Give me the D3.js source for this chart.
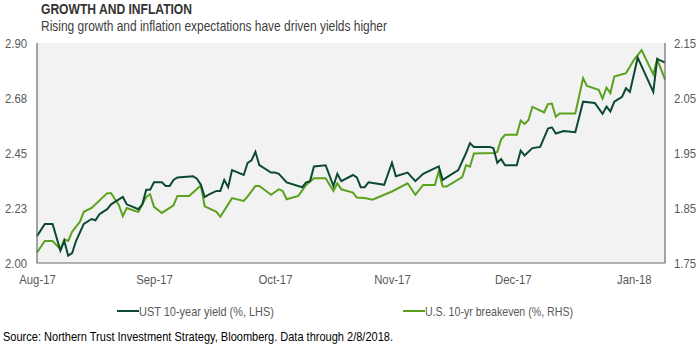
<!DOCTYPE html>
<html>
<head>
<meta charset="utf-8">
<script src="https://cdn.jsdelivr.net/npm/d3@7"></script>
<style>
  body { margin: 0; background: #ffffff; }
  text { font-family: "Liberation Sans Narrow", "Arial Narrow", "Liberation Sans", Arial, sans-serif; }
</style>
</head>
<body>
<svg id="chart"></svg>
<script>

// UST 10-year yield (%, LHS)
var ustDates = ["2017-08-31","2017-09-02","2017-09-04","2017-09-06","2017-09-07","2017-09-08","2017-09-09","2017-09-10",
    "2017-09-12","2017-09-14","2017-09-15","2017-09-16","2017-09-18","2017-09-19","2017-09-21","2017-09-22","2017-09-23",
    "2017-09-26","2017-09-27","2017-09-28","2017-09-29","2017-09-30","2017-10-02","2017-10-03","2017-10-04","2017-10-05",
    "2017-10-06","2017-10-10","2017-10-11","2017-10-12","2017-10-13","2017-10-14","2017-10-16","2017-10-17","2017-10-18",
    "2017-10-19","2017-10-20","2017-10-23","2017-10-24","2017-10-25","2017-10-26","2017-10-27","2017-10-30","2017-10-31",
    "2017-11-01","2017-11-03","2017-11-07","2017-11-08","2017-11-09","2017-11-10","2017-11-13","2017-11-15","2017-11-16",
    "2017-11-17","2017-11-20","2017-11-21","2017-11-22","2017-11-23","2017-11-24","2017-11-28","2017-11-30","2017-12-01",
    "2017-12-04","2017-12-06","2017-12-08","2017-12-10","2017-12-12","2017-12-13","2017-12-17","2017-12-19","2017-12-20",
    "2017-12-21","2017-12-25","2017-12-26","2017-12-27","2017-12-28","2017-12-29","2018-01-01","2018-01-02","2018-01-03",
    "2018-01-05","2018-01-07","2018-01-09","2018-01-10","2018-01-11","2018-01-13","2018-01-16","2018-01-18","2018-01-21",
    "2018-01-23","2018-01-24","2018-01-25","2018-01-26","2018-01-28","2018-01-29","2018-01-30","2018-02-01","2018-02-05",
    "2018-02-06","2018-02-08"]
var ustYield = [2.11,2.16,2.16,2.05,2.09,2.03,2.04,2.09,
    2.16,2.18,2.175,2.20,2.22,2.24,2.26,2.27,2.24,
    2.22,2.24,2.30,2.30,2.33,2.33,2.315,2.315,2.34,
    2.35,2.355,2.345,2.32,2.27,2.28,2.295,2.295,2.34,
    2.31,2.38,2.36,2.41,2.42,2.455,2.40,2.37,2.37,
    2.365,2.33,2.31,2.33,2.335,2.395,2.40,2.315,2.365,
    2.335,2.36,2.35,2.31,2.31,2.33,2.32,2.41,2.355,
    2.37,2.335,2.365,2.38,2.395,2.34,2.38,2.45,2.49,
    2.475,2.475,2.47,2.41,2.425,2.40,2.40,2.46,2.44,
    2.47,2.475,2.55,2.555,2.53,2.54,2.535,2.66,2.655,
    2.61,2.64,2.62,2.66,2.68,2.715,2.70,2.84,2.70,
    2.835,2.82]

// U.S. 10-yr breakeven (%, RHS)
var beDates = ["2017-08-31","2017-09-02","2017-09-04","2017-09-06","2017-09-07","2017-09-08","2017-09-09","2017-09-11",
    "2017-09-12","2017-09-14","2017-09-18","2017-09-19","2017-09-21","2017-09-22","2017-09-23","2017-09-25","2017-09-26",
    "2017-09-28","2017-09-29","2017-09-30","2017-10-02","2017-10-05","2017-10-06","2017-10-09","2017-10-12","2017-10-13",
    "2017-10-16","2017-10-17","2017-10-20","2017-10-23","2017-10-24","2017-10-26","2017-10-27","2017-10-30","2017-11-01",
    "2017-11-02","2017-11-03","2017-11-06","2017-11-08","2017-11-10","2017-11-13","2017-11-15","2017-11-16","2017-11-17",
    "2017-11-20","2017-11-21","2017-11-23","2017-11-25","2017-11-30","2017-12-04","2017-12-06","2017-12-08","2017-12-11",
    "2017-12-12","2017-12-13","2017-12-14","2017-12-18","2017-12-19","2017-12-20","2017-12-21","2017-12-26","2017-12-27",
    "2017-12-28","2017-12-29","2018-01-01","2018-01-02","2018-01-03","2018-01-04","2018-01-05","2018-01-08","2018-01-09",
    "2018-01-10","2018-01-11","2018-01-12","2018-01-16","2018-01-18","2018-01-19","2018-01-22","2018-01-23","2018-01-24",
    "2018-01-25","2018-01-26","2018-01-29","2018-01-31","2018-02-02","2018-02-05","2018-02-06","2018-02-08"]
var beValue = [1.769,1.79,1.79,1.775,1.793,1.79,1.807,1.825,
    1.843,1.85,1.877,1.877,1.855,1.835,1.85,1.845,1.843,
    1.87,1.875,1.852,1.841,1.855,1.872,1.872,1.891,1.853,
    1.843,1.834,1.868,1.863,1.871,1.89,1.89,1.874,1.884,
    1.881,1.866,1.872,1.892,1.904,1.904,1.881,1.895,1.884,
    1.878,1.869,1.868,1.865,1.88,1.895,1.874,1.892,1.892,
    1.917,1.889,1.889,1.906,1.928,1.925,1.949,1.95,1.952,
    1.975,1.983,1.983,2.009,2.003,2.01,2.034,2.024,2.039,
    2.04,2.016,2.022,2.022,2.086,2.072,2.065,2.049,2.069,
    2.059,2.089,2.095,2.119,2.137,2.093,2.12,2.084]

var xTickDates = ["2017-08-31","2017-09-30","2017-10-31","2017-11-30","2017-12-31","2018-01-31"]
var xTickLabels = ["Aug-17","Sep-17","Oct-17","Nov-17","Dec-17","Jan-18"]
var leftTicks = [2.00, 2.225, 2.45, 2.675, 2.90]
var leftTickLabels = ["2.00","2.23","2.45","2.68","2.90"]
var rightTicks = [1.75, 1.85, 1.95, 2.05, 2.15]
var rightTickLabels = ["1.75","1.85","1.95","2.05","2.15"]
var seriesNames = ["UST 10-year yield (%, LHS)", "U.S. 10-yr breakeven (%, RHS)"]

var dimensions = {
    width: 700,
    height: 350,
    margin: {
        top: 43,
        bottom: 87,
        right: 35,
        left: 37
    }
}
dimensions.boundedWidth = dimensions.width - dimensions.margin.left - dimensions.margin.right
dimensions.boundedHeight = dimensions.height - dimensions.margin.top - dimensions.margin.bottom

var parseDate = d3.timeParse("%Y-%m-%d")
var ustData = ustDates.map(function(d, i) { return { date: parseDate(d), value: ustYield[i] } })
var beData = beDates.map(function(d, i) { return { date: parseDate(d), value: beValue[i] } })

// no narrow font here, so squeeze text to a narrow width
function narrow(sel, width) {
    sel.each(function() {
        var w = width || this.getComputedTextLength() * 0.84
        d3.select(this)
            .attr("textLength", w)
            .attr("lengthAdjust", "spacingAndGlyphs")
    })
}

var svg = d3.select("#chart")
    .attr("width", dimensions.width)
    .attr("height", dimensions.height)

var bounds = svg.append("g")
    .attr("transform", "translate(" + dimensions.margin.left + "," + dimensions.margin.top + ")")

var xScale = d3.scaleTime()
    .domain([parseDate("2017-08-31"), parseDate("2018-02-08")])
    .range([0, dimensions.boundedWidth])

var yLeft = d3.scaleLinear()
    .domain([2.00, 2.90])
    .range([dimensions.boundedHeight, 0])

var yRight = d3.scaleLinear()
    .domain([1.75, 2.15])
    .range([dimensions.boundedHeight, 0])

// plot background
bounds.append("rect")
    .attr("width", dimensions.boundedWidth)
    .attr("height", dimensions.boundedHeight)
    .attr("fill", "#f2f2f2")

// lines
var ustLine = d3.line()
    .x(d => xScale(d.date))
    .y(d => yLeft(d.value))

var beLine = d3.line()
    .x(d => xScale(d.date))
    .y(d => yRight(d.value))

bounds.append("path")
    .datum(beData)
    .attr("fill", "none")
    .attr("stroke", "#5ba11c")
    .attr("stroke-width", 2)
    .attr("d", beLine)

bounds.append("path")
    .datum(ustData)
    .attr("fill", "none")
    .attr("stroke", "#0b4a30")
    .attr("stroke-width", 2)
    .attr("d", ustLine)

// axes
bounds.append("g")
    .attr("transform", "translate(0," + dimensions.boundedHeight + ")")
    .call(d3.axisBottom(xScale)
        .tickValues(xTickDates.map(parseDate))
        .tickFormat((d, i) => xTickLabels[i])
        .tickSize(0)
        .tickPadding(11))

bounds.append("g")
    .call(d3.axisLeft(yLeft)
        .tickValues(leftTicks)
        .tickFormat((d, i) => leftTickLabels[i])
        .tickSize(0)
        .tickPadding(10))

bounds.append("g")
    .attr("transform", "translate(" + dimensions.boundedWidth + ",0)")
    .call(d3.axisRight(yRight)
        .tickValues(rightTicks)
        .tickFormat((d, i) => rightTickLabels[i])
        .tickSize(0)
        .tickPadding(9))

svg.selectAll(".domain").remove()
svg.selectAll(".tick text")
    .attr("fill", "#595959")
    .style("font-size", "13.5px")
    .call(narrow)

// frame: left, bottom, right
bounds.append("path")
    .attr("d", "M0,0V" + dimensions.boundedHeight + "H" + dimensions.boundedWidth + "V0")
    .attr("fill", "none")
    .attr("stroke", "#6b6b6b")
    .attr("stroke-width", 1.2)

// titles
svg.append("text")
    .attr("x", 41)
    .attr("y", 14)
    .style("font-size", "14px")
    .style("font-weight", "bold")
    .attr("fill", "#333333")
    .text("GROWTH AND INFLATION")
    .call(narrow, 151)

svg.append("text")
    .attr("x", 41)
    .attr("y", 31)
    .style("font-size", "14.5px")
    .attr("fill", "#404040")
    .text("Rising growth and inflation expectations have driven yields higher")
    .call(narrow, 346)

// legend
var legendX = [117, 403]
var legendTextWidth = [135, 148]
var legendColors = ["#0b4a30", "#5ba11c"]
var legend = svg.selectAll(".legend")
    .data(seriesNames)
    .enter()
    .append("g")
    .attr("transform", (d, i) => "translate(" + legendX[i] + ",311)")

legend.append("line")
    .attr("x1", 0)
    .attr("x2", 22)
    .attr("stroke", (d, i) => legendColors[i])
    .attr("stroke-width", 2)

legend.append("text")
    .attr("x", 22)
    .attr("dy", "0.35em")
    .style("font-size", "13.5px")
    .attr("fill", "#595959")
    .text(d => d)
    .each(function(d, i) { narrow(d3.select(this), legendTextWidth[i]) })

// source
svg.append("text")
    .attr("x", 3)
    .attr("y", 341)
    .style("font-size", "13.5px")
    .attr("fill", "#000000")
    .text("Source: Northern Trust Investment Strategy, Bloomberg. Data through 2/8/2018.")
    .call(narrow, 390)

</script>
</body>
</html>
